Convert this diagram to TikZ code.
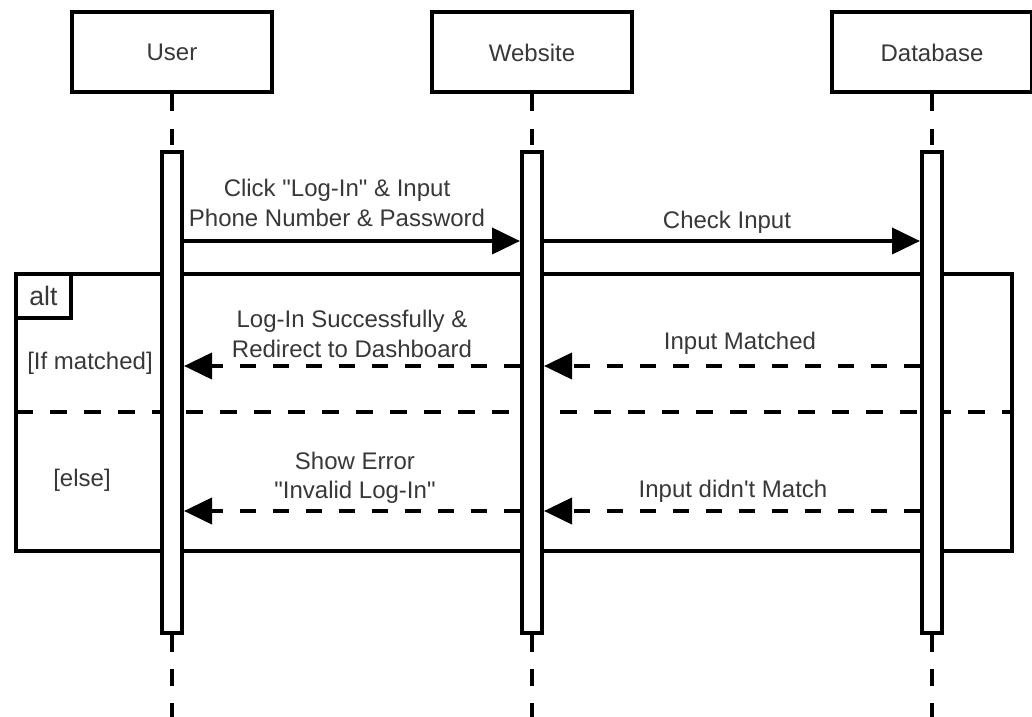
\documentclass[tikz,border=0pt]{standalone}
\usepackage{fontspec}
\setmainfont{Liberation Sans}
\usepackage{xcolor}
\usetikzlibrary{arrows.meta,positioning}
\definecolor{ink}{HTML}{383838}
\newcommand{\dq}{\XeTeXglyph\XeTeXcharglyph"22\relax}
\newcommand{\sq}{\XeTeXglyph\XeTeXcharglyph"27\relax}
\tikzset{
  actor/.style={rectangle,draw=black,line width=3pt,fill=white,minimum width=150pt,
    minimum height=60pt,font=\fontsize{18}{22}\selectfont,text=ink},
  actbar/.style={rectangle,draw=black,line width=3pt,fill=white,minimum width=15pt,
    minimum height=360.75pt},
  lifeline/.style={line width=3pt,dash pattern=on 12.5pt off 13pt},
  msg/.style={-{Triangle[length=21pt,width=19.5pt]},line width=3pt,draw=black},
  reply/.style={msg,dash pattern=on 12pt off 12.75pt},
  msgtext/.style={font=\fontsize{18}{22}\selectfont,text=ink,align=center,inner sep=0pt},
  frame/.style={rectangle,draw=black,line width=3pt,outer sep=0pt,minimum width=747pt,
    minimum height=207.75pt},
  tab/.style={rectangle,draw=black,line width=3pt,fill=white,outer sep=0pt,minimum width=41.25pt,
    minimum height=33pt,font=\fontsize{20}{24}\selectfont,text=ink}
}
\begin{document}
\begin{tikzpicture}[x=0.75pt,y=-0.75pt]
\useasboundingbox (0,0) rectangle (1032,717);
\node[frame] (altfrm) at (514,412.5) {};
\node[tab,anchor=north west] (alttab) at (altfrm.north west) {alt};
\coordinate (sep) at (0,412);
\draw[lifeline] (altfrm.west |- sep) -- (altfrm.east |- sep);
\node[msgtext] (g1) at (90,363) {[If matched]};
\node[msgtext] (g2) at (82,480) {[else]};
\node[actor] (user) at (172,52.5) {User};
\node[actor] (web) at (532,52.5) {Website};
\node[actor] (db) at (932,52.5) {Database};
\node[actbar] (ubar) at (172,392.5) {};
\node[actbar] (wbar) at (532,392.5) {};
\node[actbar] (dbar) at (932,392.5) {};
\coordinate (end) at (0,717);
\draw[lifeline] (user) -- (ubar); \draw[lifeline] (ubar.south) -- (ubar.south |- end);
\draw[lifeline] (web) -- (wbar); \draw[lifeline] (wbar.south) -- (wbar.south |- end);
\draw[lifeline] (db) -- (dbar); \draw[lifeline] (dbar.south) -- (dbar.south |- end);
\coordinate (y1) at (0,241); \coordinate (y2) at (0,366); \coordinate (y3) at (0,511);
\draw[msg] (ubar.east |- y1) -- (wbar.west |- y1);
\draw[msg] (wbar.east |- y1) -- (dbar.west |- y1);
\draw[reply] (dbar.west |- y2) -- (wbar.east |- y2);
\draw[reply] (wbar.west |- y2) -- (ubar.east |- y2);
\draw[reply] (dbar.west |- y3) -- (wbar.east |- y3);
\draw[reply] (wbar.west |- y3) -- (ubar.east |- y3);
\node[msgtext] (t1) at (337,203) {Click \dq Log-In\dq{} \& Input\\Phone Number \& Password};
\node[msgtext] (t2) at (727,222) {Check Input};
\node[msgtext] (t3) at (740,343) {Input Matched};
\node[msgtext] (t4) at (352,334) {Log-In Successfully \&\\Redirect to Dashboard};
\node[msgtext] (t5) at (733,491) {Input didn\sq t Match};
\node[msgtext] (t6) at (355,478) {Show Error\\\dq Invalid Log-In\dq};
\end{tikzpicture}
\end{document}
